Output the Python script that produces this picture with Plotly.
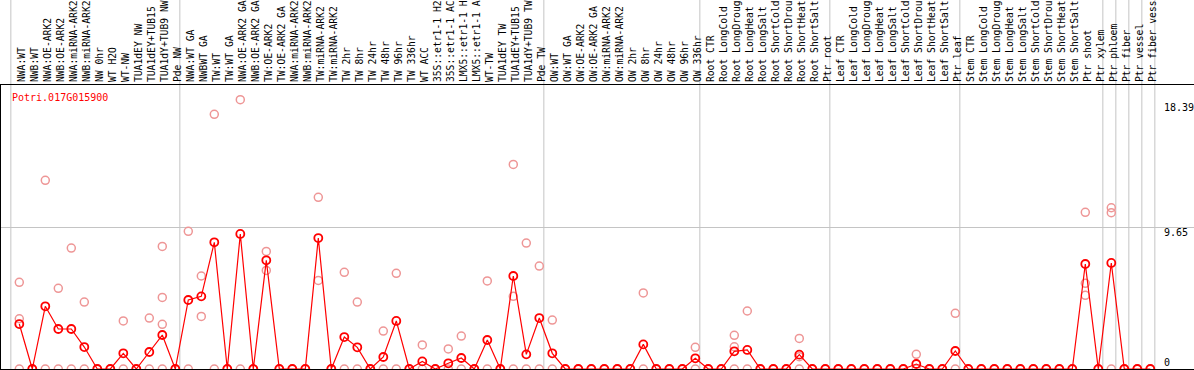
import plotly.graph_objects as go

labels = [
    "NWA:WT", "NWB:WT", "NWA:OE-ARK2", "NWB:OE-ARK2", "NWA:miRNA-ARK2", "NWB:miRNA-ARK2",
    "NW 0hr", "WT H2O", "WT-NW", "TUA1dEY NW", "TUA1dEY+TUB15", "TUA1dY+TUB9 NW", "Pde NW",
    "NWA:WT GA", "NWBWT GA", "TW:WT", "TW:WT GA", "NWA:OE-ARK2 GA", "NWB:OE-ARK2 GA",
    "TW:OE-ARK2", "TW:OE-ARK2 GA", "NWA:miRNA-ARK2", "NWB:miRNA-ARK2", "TW:miRNA-ARK2",
    "TW:miRNA-ARK2", "TW 2hr", "TW 8hr", "TW 24hr", "TW 48hr", "TW 96hr", "TW 336hr",
    "WT ACC", "35S::etr1-1 H2", "35S::etr1-1 AC", "LMX5::etr1-1 H", "LMX5::etr1-1 A",
    "WT-TW", "TUA1dEY TW", "TUA1dEY+TUB15", "TUA1dY+TUB9 TW", "Pde TW",
    "OW:WT", "OW:WT GA", "OW:OE-ARK2", "OW:OE-ARK2 GA", "OW:miRNA-ARK2", "OW:miRNA-ARK2",
    "OW 2hr", "OW 8hr", "OW 24hr", "OW 48hr", "OW 96hr", "OW 336hr",
    "Root CTR", "Root LongCold", "Root LongDroug", "Root LongHeat", "Root LongSalt",
    "Root ShortCold", "Root ShortDrou", "Root ShortHeat", "Root ShortSalt", "Ptr root",
    "Leaf CTR", "Leaf LongCold", "Leaf LongDroug", "Leaf LongHeat", "Leaf LongSalt",
    "Leaf ShortCold", "Leaf ShortDrou", "Leaf ShortHeat", "Leaf ShortSalt", "Ptr leaf",
    "Stem CTR", "Stem LongCold", "Stem LongDroug", "Stem LongHeat", "Stem LongSalt",
    "Stem ShortCold", "Stem ShortDrou", "Stem ShortHeat", "Stem ShortSalt",
    "Ptr shoot", "Ptr xylem", "Ptr phloem", "Ptr fiber", "Ptr vessel", "Ptr fiber vess",
]

means = [
    3.07, 0, 4.28, 2.73, 2.73, 1.50, 0, 0, 1.07, 0, 1.16, 2.32, 0,
    4.71, 4.96, 8.65, 0, 9.22, 0, 7.42, 0, 0, 0, 8.94, 0, 2.18, 1.48, 0, 0.82, 3.28, 0,
    0.52, 0, 0.39, 0.75, 0, 1.98, 0, 6.35, 1.00, 3.48,
    1.07, 0, 0, 0, 0, 0, 0, 1.68, 0, 0, 0, 0.73,
    0, 0, 1.21, 1.30, 0, 0, 0, 0.98, 0, 0,
    0, 0, 0, 0, 0, 0, 0.34, 0, 0, 1.23,
    0, 0, 0, 0, 0, 0, 0, 0, 0, 7.17, 0,
    7.24, 0, 0, 0,
]

N = None
rep_a = [
    5.92, 0, 12.88, 5.51, 8.26, 4.57, 0, 0, 3.28, 0, 3.48, 8.37, 0,
    9.40, 6.35, 17.39, 0, 18.39, 0, 8.03, 0, 0, 0, 11.72, 0, 6.60, 4.57, 0, 2.59, 6.53, 0,
    1.64, 0, 1.37, 2.25, 0, 6.01, 0, 13.97, 8.60, 7.03,
    3.34, 0, 0, 0, 0, 0, 0, 5.19, 0, 0, 0, 1.48,
    0, 0, 2.30, 3.96, 0, 0, 0, 2.09, 0, 0,
    0, 0, 0, 0, 0, 0, 1.00, 0, 0, 3.80,
    0, 0, 0, 0, 0, 0, 0, 0, 0, 10.70, 0,
    11.01, 0, 0, 0,
]
rep_b = [
    3.43, N, 0, 0, 0, 0, N, N, 0, N, 0, 4.89, N,
    0, 3.59, 0, N, 0, N, 6.73, N, N, N, 6.05, N, 0, 0, N, 0, 0, N,
    0, N, 0, 0, N, 0, N, 4.96, 0, 0,
    0, N, N, N, N, N, N, 0, N, N, N, 0,
    N, N, 1.52, 0, N, N, N, 0.84, N, N,
    N, N, N, N, N, N, 0, N, N, 0,
    N, N, N, N, N, N, N, N, N, 5.85, N,
    10.67, N, N, N,
]
rep_c = [
    0, N, N, N, N, N, N, N, N, N, N, 3.05, N,
    N, N, N, N, N, N, N, N, N, N, N, N, N, N, N, N, N, N,
    N, N, N, N, N, N, N, 0, N, N,
    N, N, N, N, N, N, N, N, N, N, N, N,
    N, N, 0, N, N, N, N, 0, N, N,
    N, N, N, N, N, N, N, N, N, N,
    N, N, N, N, N, N, N, N, N, 5.03, N,
    0, N, N, N,
]
rep_d = [N] * 11 + [0] + [N] * 76

title_text = "Potri.017G015900"
scale_labels = ["18.39", "9.65", "0"]
scale_values = [18.39, 9.65, 0]
group_starts = [0, 13, 41, 53, 63, 73, 84, 85, 86, 87, 88]

ymax = 18.39 + 1.0
mono = "DejaVu Sans Mono"

rx, ry = [], []
for reps in (rep_a, rep_b, rep_c, rep_d):
    for i, v in enumerate(reps):
        if v is not None:
            rx.append(i)
            ry.append(v)

fig = go.Figure()
fig.add_trace(go.Scatter(
    x=rx, y=ry, mode="markers", cliponaxis=False,
    marker=dict(symbol="circle-open", size=8, color="rgb(238,150,150)",
                line=dict(width=1.5, color="rgb(238,150,150)")),
    hoverinfo="skip", showlegend=False))
fig.add_trace(go.Scatter(
    x=list(range(len(means))), y=means, mode="lines+markers", cliponaxis=False,
    line=dict(color="#ff0000", width=1.2),
    marker=dict(symbol="circle-open", size=8, color="#ff0000",
                line=dict(width=1.8, color="#ff0000")),
    showlegend=False))

W, H = 1194, 370
ml, mr, mt, mb = 1, 0, 85, 1
px_per = 13.0
x0 = -(19.3 - ml) / px_per
x1 = x0 + (W - ml - mr) / px_per

shapes = []
for g in group_starts:
    shapes.append(dict(type="line", xref="x", yref="paper", x0=g - 0.65, x1=g - 0.65,
                       y0=0, y1=1 + mt / (H - mt - mb), layer="below",
                       line=dict(color="#c4c4c4", width=1)))

annotations = [dict(text=title_text, xref="paper", yref="paper", x=(9.5 - ml) / (W - ml - mr),
                    y=(369 - 97.3) / 284, xanchor="left", yanchor="middle", showarrow=False,
                    font=dict(family=mono, size=10, color="#ff0000"))]
shifts = [-8, -5, 7]
for t, v, s in zip(scale_labels, scale_values, shifts):
    annotations.append(dict(text=t, xref="paper", yref="y", x=(1162 - ml) / (W - ml - mr), y=v,
                            yshift=s, xanchor="left", yanchor="middle", showarrow=False,
                            font=dict(family=mono, size=10, color="#000000")))

fig.update_layout(
    width=W, height=H, margin=dict(l=ml, r=mr, t=mt, b=mb, pad=0),
    paper_bgcolor="white", plot_bgcolor="white",
    shapes=shapes, annotations=annotations,
    xaxis=dict(range=[x0, x1], side="top", tickmode="array",
               tickvals=list(range(len(labels))), ticktext=labels, tickangle=-90,
               tickfont=dict(family=mono, size=9.7, color="black"), ticks="",
               ticklabelshift=3,
               showgrid=False, zeroline=False, showline=True, linecolor="black",
               linewidth=1, mirror=True, automargin=False, fixedrange=True),
    yaxis=dict(range=[0, ymax], tickmode="array", tickvals=[9.65], showticklabels=False,
               ticks="", showgrid=True, gridcolor="#c4c4c4", gridwidth=1, zeroline=False,
               showline=True, linecolor="black", linewidth=1, mirror=False,
               automargin=False, fixedrange=True),
)

fig.write_html("out.html", config={"displayModeBar": False},
               post_script="document.body.style.margin='0';document.body.style.overflow='hidden';")
